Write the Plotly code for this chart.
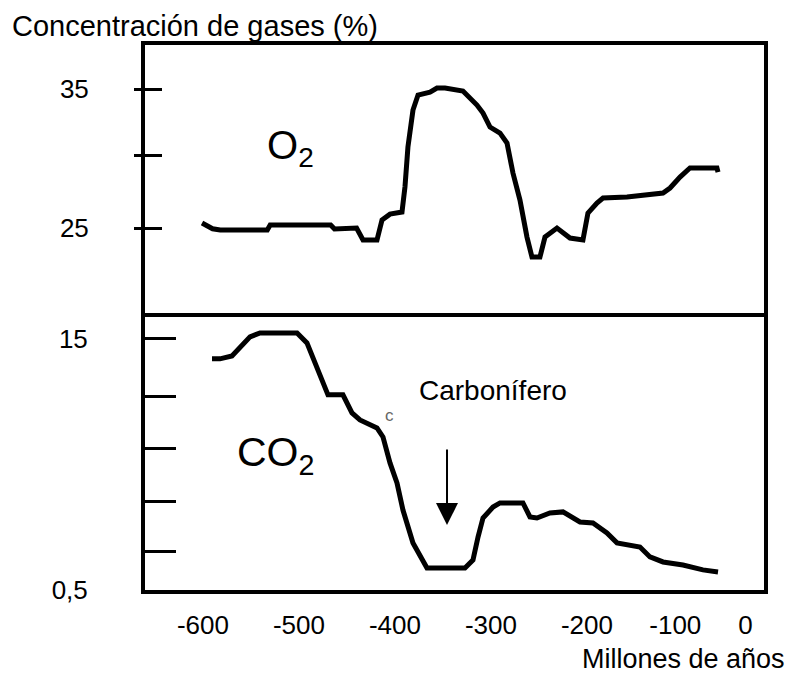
import plotly.graph_objects as go

# ---- data ----
o2_age = [-601, -590, -582, -533, -530, -467, -463, -440, -433.3, -418.75, -413.5, -405.2,
          -392.7, -389.6, -386.5, -381.25, -376, -363.5, -356.25, -347.9, -329.2, -314.6,
          -308.3, -301, -290.6, -283.3, -277.1, -269.8, -262.5, -257.3, -249, -243.75,
          -231.25, -225, -217.7, -204.2, -199, -189.6, -183.3, -158.3, -134.4, -120.8,
          -113.5, -103.1, -92.7, -64.6, -63.5]
o2_pct = [25.36, 24.95, 24.86, 24.86, 25.22, 25.22, 24.93, 25.0, 24.14, 24.14, 25.58, 26.0,
          26.15, 27.95, 30.83, 33.49, 34.57, 34.78, 35.07, 35.07, 34.86, 33.85,
          33.27, 32.27, 31.83, 31.12, 28.96, 27.01, 24.35, 22.91, 22.91, 24.35,
          25.0, 24.71, 24.28, 24.14, 26.08, 26.8, 27.16, 27.23, 27.37, 27.52,
          27.88, 28.67, 29.32, 29.32, 29.03]

co2_age = [-590.6, -582.3, -569.8, -561.5, -551, -540.6, -502, -491.7, -483.3, -476,
           -469.8, -454.2, -444.8, -436.5, -418.75, -412.5, -405.2, -397.9, -391.7,
           -381.25, -366.7, -327.1, -318.75, -313.5, -308.3, -297.9, -290.6, -266.7,
           -259.4, -252.1, -238.6, -225, -207.3, -193.75, -179.2, -168.75, -144.8,
           -134.4, -120.8, -100, -79.2, -63.5]
co2_pct = [13.85, 13.85, 14.02, 14.54, 15.12, 15.35, 15.35, 14.77, 13.61, 12.46,
           11.77, 11.77, 10.73, 10.32, 9.86, 9.34, 7.84, 6.68, 5.12,
           3.22, 1.77, 1.77, 2.23, 3.56, 4.66, 5.29, 5.53, 5.53,
           4.72, 4.66, 4.95, 5.01, 4.43, 4.37, 3.79, 3.22, 2.98,
           2.41, 2.12, 1.94, 1.66, 1.54]

x_tick_vals = [-600, -500, -400, -300, -200, -108, -35]
x_tick_text = ["-600", "-500", "-400", "-300", "-200", "-100", "0"]
o2_tick_vals = [25, 30.25, 35]
o2_tick_text = ["25", "", "35"]
co2_tick_vals = [0.5, 2.7, 5.6, 8.65, 11.7, 15]
co2_tick_text = ["0,5", "", "", "", "", "15"]

X_RANGE = [-660.4, -15.6]
O2_RANGE = [18.46, 38.17]
CO2_RANGE = [0.5, 16.27]
SPLIT = 0.501
TOP_START = SPLIT - 2 / 545

FONT = "Liberation Sans, Arial, sans-serif"

fig = go.Figure()
fig.add_trace(go.Scatter(x=o2_age, y=o2_pct, mode="lines",
                         line=dict(color="black", width=5),
                         xaxis="x", yaxis="y", hoverinfo="skip"))
fig.add_trace(go.Scatter(x=co2_age, y=co2_pct, mode="lines",
                         line=dict(color="black", width=5),
                         xaxis="x2", yaxis="y2", hoverinfo="skip"))
# empty trace so the overlaid inner-tick axis is drawn
fig.add_trace(go.Scatter(x=[None], y=[None], mode="lines", xaxis="x", yaxis="y3",
                         hoverinfo="skip"))

axis_common = dict(showline=True, linewidth=4, linecolor="black", mirror=True,
                   showgrid=False, zeroline=False)

fig.update_layout(
    width=791, height=679,
    margin=dict(l=145, r=27, t=45, b=89),
    paper_bgcolor="white", plot_bgcolor="white",
    showlegend=False,
    font=dict(family=FONT, color="black", size=26),
    title=dict(text="Concentración de gases (%)", x=12 / 791, xanchor="left",
               y=1 - 26 / 679, yanchor="middle", xref="container", yref="container",
               font=dict(size=29, family=FONT, color="black")),
    xaxis=dict(domain=[0, 1], anchor="y", range=X_RANGE, showticklabels=False,
               ticks="", **axis_common),
    yaxis=dict(domain=[TOP_START, 1], anchor="x", range=O2_RANGE,
               tickmode="array", tickvals=o2_tick_vals, ticktext=o2_tick_text,
               ticks="outside", ticklen=7, tickwidth=3, tickcolor="black",
               ticklabelstandoff=40, tickfont=dict(size=26), **axis_common),
    yaxis3=dict(overlaying="y", anchor="x", side="left", range=O2_RANGE,
                tickmode="array", tickvals=o2_tick_vals,
                ticks="inside", ticklen=17, tickwidth=3, tickcolor="black",
                showticklabels=False, showline=False, showgrid=False, zeroline=False),
    xaxis2=dict(domain=[0, 1], anchor="y2", range=X_RANGE,
                tickmode="array", tickvals=x_tick_vals, ticktext=x_tick_text,
                ticks="", ticklabelstandoff=9, tickfont=dict(size=26), **axis_common),
    yaxis2=dict(domain=[0, SPLIT], anchor="x2", range=CO2_RANGE,
                tickmode="array", tickvals=co2_tick_vals, ticktext=co2_tick_text,
                ticks="inside", ticklen=31, tickwidth=3, tickcolor="black",
                ticklabelstandoff=48, tickfont=dict(size=26), **axis_common),
)

annotations = [
    dict(text="O<sub>2</sub>", x=-535.4, y=30.76, xref="x", yref="y",
         xanchor="left", yanchor="middle", showarrow=False,
         font=dict(size=40, family=FONT, color="black")),
    dict(text="CO<sub>2</sub>", x=-566.7, y=8.3, xref="x2", yref="y2",
         xanchor="left", yanchor="middle", showarrow=False,
         font=dict(size=41, family=FONT, color="black")),
    dict(text="Carbonífero", x=-297.9, y=12.05, xref="x2", yref="y2",
         xanchor="center", yanchor="middle", showarrow=False,
         font=dict(size=28, family=FONT, color="black")),
    dict(text="c", x=-405.2, y=10.55, xref="x2", yref="y2",
         xanchor="center", yanchor="middle", showarrow=False,
         font=dict(size=17, family=FONT, color="#666666")),
    dict(text="", x=-345.8, y=4.25, xref="x2", yref="y2",
         ax=-345.8, ay=8.7, axref="x2", ayref="y2",
         showarrow=True, arrowhead=2, arrowsize=2.2, arrowwidth=2, arrowcolor="black"),
    dict(text="Millones de años", x=(787 - 145) / 619, y=(590 - 659) / 545,
         xref="paper", yref="paper",
         xanchor="right", yanchor="middle", showarrow=False,
         font=dict(size=27, family=FONT, color="black")),
]
fig.update_layout(annotations=annotations)

fig.write_html(
    "out.html",
    config={"displayModeBar": False, "staticPlot": True},
    post_script="document.body.style.margin='0';document.body.style.overflow='hidden';",
)
